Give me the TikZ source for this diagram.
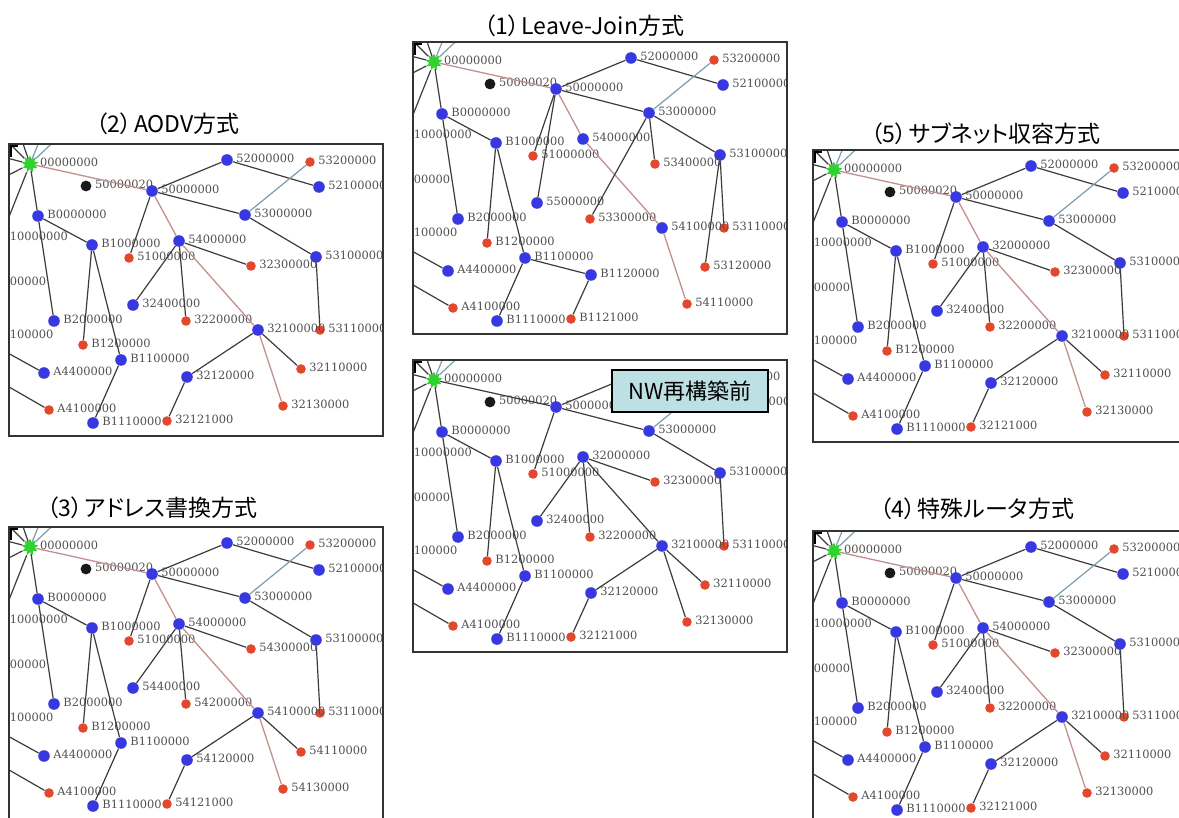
\documentclass[tikz,border=0pt]{standalone}
\usepackage{fontspec}
\usetikzlibrary{shapes.geometric}
\newfontfamily\jpfont[RawFeature=+palt]{Noto Sans CJK JP}
\newfontfamily\lblfont{DejaVu Serif}
\definecolor{ndblue}{HTML}{3838E0}
\definecolor{ndred}{HTML}{E2492C}
\definecolor{ndgreen}{HTML}{2FD22F}
\definecolor{edgegray}{HTML}{3C3C3C}
\definecolor{edgepink}{HTML}{C48F8F}
\definecolor{edgeteal}{HTML}{7A9CB0}
\definecolor{lblgray}{HTML}{505050}
\definecolor{boxfill}{HTML}{BCE0E4}
\definecolor{framegray}{HTML}{333333}
\tikzset{
 eg/.style={draw=edgegray, line width=0.6pt},
 ep/.style={draw=edgepink, line width=0.65pt},
 et/.style={draw=edgeteal, line width=0.6pt},
 xp/.style={ep},
 rp/.style={ep},
 dotb/.style={circle, fill=ndblue, minimum size=5.8pt, inner sep=0pt},
 dotr/.style={circle, fill=ndred, minimum size=4.8pt, inner sep=0pt},
 dotk/.style={circle, fill=black!90, minimum size=5.4pt, inner sep=0pt},
 dotg/.style={star, star points=9, star point ratio=1.7, fill=ndgreen, minimum size=8.5pt, inner sep=0pt},
 lbl/.style={font=\lblfont\fontsize{5.7}{6.5}\selectfont, text=lblgray, inner sep=0.2pt, label distance=1.2pt, yshift=0.7pt},
 frame/.style={draw=framegray, line width=0.75pt},
 title/.style={font=\jpfont\fontsize{11.5}{13}\selectfont, inner sep=0pt},
 nwbox/.style={draw=black, line width=0.6pt, fill=boxfill, minimum width=78pt, minimum height=21pt, inner sep=0pt, font=\jpfont\fontsize{11}{13}\selectfont},
}
\newcommand\panel[5]{%
 \begin{scope}[shift={(#2,#3)}, name prefix=#1-, #4]
  \begin{scope}
   \clip (0,0) rectangle (374,292);
   #5
  \end{scope}
  \draw[frame] (0,0) rectangle (374,292);
 \end{scope}}
\newcommand\commonpart{%
 \coordinate (s1) at (-9,-10);
 \coordinate (s2) at (10,-12);
 \coordinate (s3) at (35,-14);
 \coordinate (s4) at (55,-12);
 \coordinate (s5) at (-10,12);
 \coordinate (s6) at (-10,36);
 \coordinate (s7) at (-10,98);
 \coordinate (ea) at (-12,203);
 \coordinate (eb) at (-12,236);
 \node[dotg, label={[lbl]right:00000000}] (root) at (21,20) {};
 \node[dotk, label={[lbl]right:50000020}] (blk) at (77,42) {};
 \node[dotb, label={[lbl]right:50000000}] (hub) at (143,47) {};
 \node[dotb, label={[lbl]right:52000000}] (n52) at (218,16) {};
 \node[dotr, label={[lbl]right:53200000}] (n532) at (301,18) {};
 \node[dotb, label={[lbl]right:52100000}] (n521) at (310,43) {};
 \node[dotb, label={[lbl]right:53000000}] (n53) at (236,71) {};
 \node[dotb, label={[lbl]right:53100000}] (n531) at (307,113) {};
 \node[dotr, label={[lbl]right:53110000}] (n5311) at (311,186) {};
 \node[dotr, label={[lbl]right:51000000}] (n51) at (120,114) {};
 \node[dotb, label={[lbl]right:B0000000}] (b0) at (29,72) {};
 \node[dotb, label={[lbl]right:B1000000}] (b1) at (83,101) {};
 \node[dotb, label={[lbl]right:B2000000}] (b2) at (45,177) {};
 \node[dotr, label={[lbl]right:B1200000}] (b12) at (74,201) {};
 \node[dotb, label={[lbl]right:B1100000}] (b11) at (112,216) {};
 \node[dotb, label={[lbl]right:A4400000}] (a44) at (35,229) {};
 \node[dotr, label={[lbl]right:A4100000}] (a41) at (40,266) {};
 \node[dotb, label={[lbl]right:B1110000}] (b111) at (84,279) {};
 \node[lbl, anchor=west] (cut1) at (0,94) {10000000};
 \node[lbl, anchor=west] (cut2) at (0,139) {00000};
 \node[lbl, anchor=west] (cut3) at (0,192) {100000};
 \draw[eg] (root) -- (s1) (root) -- (s2) (root) -- (s5) (root) -- (s6) (root) -- (s7);
 \draw[et] (root) -- (s3) (root) -- (s4);
 \draw[black, line width=1.2pt] (2,13) -- (2,2) -- (9,2);
 \draw[rp] (root) -- (hub);
 \draw[eg] (hub) -- (n52) (n52) -- (n521) (hub) -- (n53) (n53) -- (n531)
           (n531) -- (n5311) (hub) -- (n51);
 \draw[et] (n53) -- (n532);
 \draw[eg] (root) -- (b0) (b0) -- (b1) (b0) -- (b2) (b1) -- (b12) (b1) -- (b11)
           (b11) -- (b111) (ea) -- (a44) (eb) -- (a41);
}
\newcommand\Xnodes[9]{%
 \node[dotb, label={[lbl]right:#1}] (x) at (170,97) {};
 \node[dotr, label={[lbl]right:#2}] (x3) at (242,122) {};
 \node[dotb, label={[lbl]right:#3}] (x4) at (124,161) {};
 \node[dotr, label={[lbl]right:#4}] (x2) at (177,177) {};
 \node[dotb, label={[lbl]right:#5}] (x1) at (249,186) {};
 \node[dotr, label={[lbl]right:#6}] (x11) at (292,225) {};
 \node[dotb, label={[lbl]right:#7}] (x12) at (178,233) {};
 \node[dotr, label={[lbl]right:#8}] (x13) at (274,262) {};
 \node[dotr, label={[lbl]right:#9}] (x121) at (158,277) {};
}
\newcommand\Xedges{%
 \draw[eg] (x) -- (x3) (x) -- (x4) (x) -- (x2) (x1) -- (x11) (x1) -- (x12) (x12) -- (x121);
 \draw[xp] (x) -- (x1) (x1) -- (x13);
}
\begin{document}
\begin{tikzpicture}[x=0.5pt, y=-0.5pt]
\useasboundingbox (0,0) rectangle (1179,818);
\fill[white] (0,0) rectangle (1179,818);

% titles
\node[title] (t1) at (584,26) {（1）\hspace{1pt}Leave-Join方式};
\node[title] (t2) at (168,124) {（2）\hspace{1pt}AODV方式};
\node[title] (t5) at (986,134) {（5）\hspace{1pt}サブネット収容方式};
\node[title] (t3) at (152,508) {（3）\hspace{1pt}アドレス書換方式};
\node[title] (t4) at (977,509) {（4）\hspace{1pt}特殊ルータ方式};

% (1) Leave-Join
\panel{pA}{413}{42}{}{%
 \commonpart
 \Xnodes{54000000}{53400000}{55000000}{53300000}{54100000}{53120000}{B1120000}{54110000}{B1121000}
 \draw[ep] (hub) -- (x) (x) -- (x1) (x1) -- (x13);
 \draw[eg] (hub) -- (x4) (n53) -- (x3) (n53) -- (x2) (n531) -- (x11) (b11) -- (x12) (x12) -- (x121);
}

% NW before reconstruction
\panel{pC}{413}{360}{xp/.style={eg}, rp/.style={eg}}{%
 \commonpart
 \Xnodes{32000000}{32300000}{32400000}{32200000}{32100000}{32110000}{32120000}{32130000}{32121000}
 \Xedges
}
\node[nwbox] (nw) at (690,391) {NW再構築前};

% (2) AODV
\panel{pB}{9}{144}{}{%
 \commonpart
 \Xnodes{54000000}{32300000}{32400000}{32200000}{32100000}{32110000}{32120000}{32130000}{32121000}
 \Xedges
 \draw[ep] (hub) -- (x);
}

% (3) address rewrite
\panel{pD}{9}{527}{}{%
 \commonpart
 \Xnodes{54000000}{54300000}{54400000}{54200000}{54100000}{54110000}{54120000}{54130000}{54121000}
 \Xedges
 \draw[ep] (hub) -- (x);
}

% (5) subnet
\panel{pE}{813}{150}{}{%
 \commonpart
 \Xnodes{32000000}{32300000}{32400000}{32200000}{32100000}{32110000}{32120000}{32130000}{32121000}
 \Xedges
 \draw[ep] (hub) -- (x);
}

% (4) special router
\panel{pF}{813}{531}{}{%
 \commonpart
 \Xnodes{54000000}{32300000}{32400000}{32200000}{32100000}{32110000}{32120000}{32130000}{32121000}
 \Xedges
 \draw[ep] (hub) -- (x);
}
\end{tikzpicture}
\end{document}
